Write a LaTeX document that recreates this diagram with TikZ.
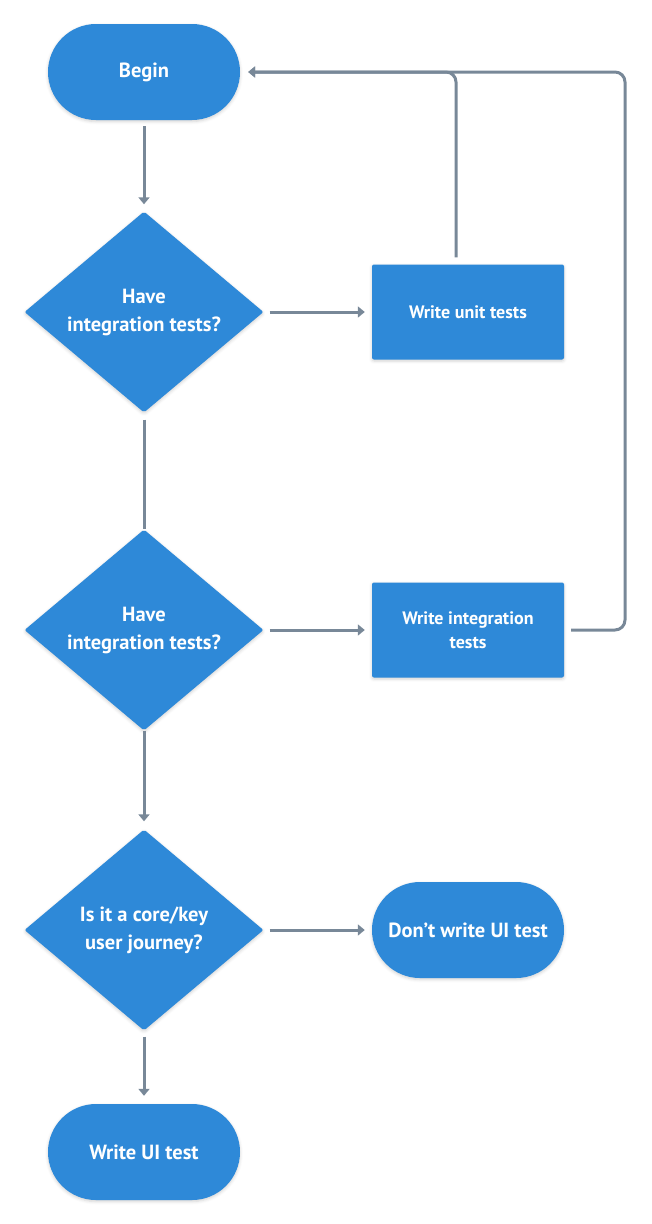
\documentclass[tikz,border=0pt]{standalone}
\usepackage{fontspec}
\setmainfont{PT Sans}
\usetikzlibrary{shapes.geometric,arrows.meta,shadows.blur}
\definecolor{flowblue}{RGB}{46,137,216}
\definecolor{flowgray}{RGB}{120,136,152}
\begin{document}
\begin{tikzpicture}[x=1pt,y=-1pt,
  base/.style={fill=flowblue,draw=none,text=white,align=center,inner sep=0pt,
    blur shadow={shadow xshift=0pt,shadow yshift=-1.5pt,shadow blur radius=3pt,shadow opacity=18}},
  terminal/.style={base,rectangle,rounded corners=48pt,minimum width=192pt,minimum height=96pt,font=\bfseries\fontsize{20.5}{24}\selectfont},
  process/.style={base,rectangle,rounded corners=2pt,minimum width=192pt,minimum height=95pt,font=\bfseries\fontsize{18}{24}\selectfont},
  decision/.style={base,diamond,rounded corners=2pt,minimum width=239pt,minimum height=201pt,font=\bfseries\fontsize{20.5}{28}\selectfont},
  link/.style={draw=flowgray,line width=3pt},
  arrow/.style={link,-{Triangle[length=7pt,width=11pt]}}
]
\useasboundingbox (0,0) rectangle (652,1224);

% nodes
\node[terminal] (begin) at (144,72) {Begin};
\node[decision] (d1) at (144,312) {Have\\integration tests?};
\node[process] (unit) at (468,312) {Write unit tests};
\node[decision] (d2) at (144,630) {Have\\integration tests?};
\node[process] (integ) at (468,630) {Write integration\\tests};
\node[decision] (d3) at (144,930) {Is it a core/key\\user journey?};
\node[terminal] (dont) at (468,930) {Don't write UI test};
\node[terminal] (ui) at (144,1152) {Write UI test};
\coordinate (rt) at (625,72);

% connectors
\draw[arrow,shorten <=6pt,shorten >=7pt] (begin.south) -- (d1.north);
\draw[arrow,shorten <=6pt,shorten >=7pt] (d1.east) -- (unit.west);
\draw[link,shorten <=7pt] (d1.south) -- (d2.north);
\draw[arrow,shorten <=6pt,shorten >=7pt] (d2.east) -- (integ.west);
\draw[arrow,shorten >=8pt] (d2.south) -- (d3.north);
\draw[arrow,shorten <=6pt,shorten >=7pt] (d3.east) -- (dont.west);
\draw[arrow,shorten <=6pt,shorten >=8pt] (d3.south) -- (ui.north);
\draw[arrow,rounded corners=10pt,shorten <=7pt,shorten >=8pt] ([xshift=-12pt]unit.north) |- (begin.east);
\draw[arrow,rounded corners=10pt,shorten <=7pt,shorten >=8pt] (integ.east) -| (rt) -- (begin.east);
\end{tikzpicture}
\end{document}
